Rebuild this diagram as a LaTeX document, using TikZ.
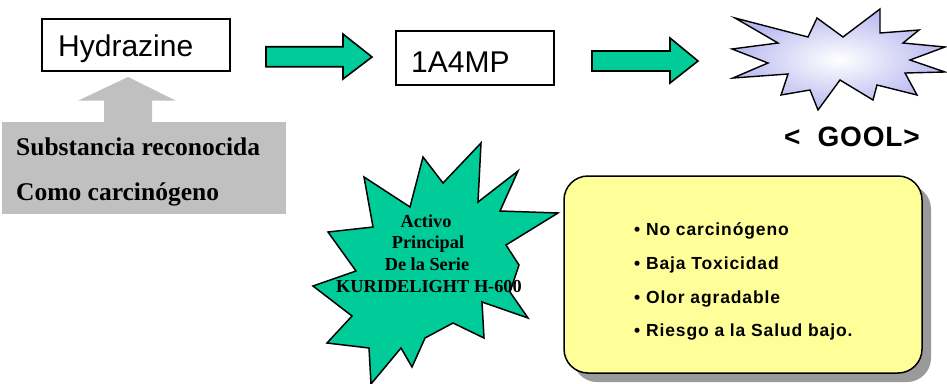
\documentclass[tikz,border=0pt]{standalone}
\usepackage{fontspec}
\setmainfont{Liberation Serif}
\newfontfamily\arialf{Liberation Sans}
\newfontfamily\arialsp[LetterSpace=5]{Liberation Sans}
\newfontfamily\arialgl[LetterSpace=3]{Liberation Sans}
\definecolor{grn}{HTML}{00CC99}
\definecolor{gry}{HTML}{C0C0C0}
\definecolor{ylw}{HTML}{FFFF99}
\definecolor{lav}{HTML}{B8B8F0}
\definecolor{shd}{HTML}{9A9A9A}
\begin{document}
\begin{tikzpicture}[x=1pt,y=-1pt,
  outl/.style={draw=black,line width=1.6pt,line join=miter},
  bigsans/.style={inner sep=0pt,anchor=base west,font=\arialf\fontsize{30}{36}\selectfont},
  sertxt/.style={inner sep=0pt,anchor=base west,font=\bfseries\fontsize{25.5}{30}\selectfont},
  startxt/.style={inner sep=0pt,anchor=base,font=\bfseries\fontsize{18.3}{22}\selectfont},
  bullettxt/.style={inner sep=0pt,anchor=base west,font=\arialsp\bfseries\fontsize{17.5}{21}\selectfont}]
\useasboundingbox (0,0) rectangle (947,383);
\fill[white] (0,0) rectangle (947,383);

% Hydrazine box
\node[draw=black,line width=1.8pt,minimum width=188pt,minimum height=52pt,inner sep=0pt] (hyd) at (136,45.3) {};
\node[bigsans] (hydt) at (58,56.7) {Hydrazine};

% 1A4MP box
\node[draw=black,line width=1.8pt,minimum width=158pt,minimum height=54pt,inner sep=0pt] (mp) at (475,57.7) {};
\node[bigsans] (mpt) at (411,72.7) {1A4MP};

% grey box and arrow
\fill[gry] (2,122) rectangle (286,214);
\fill[gry] (104,123) -- (104,100.7) -- (78,100.7) -- (128,77) -- (176,100.7) -- (152,100.7) -- (152,123) -- cycle;
\node[sertxt] (sub1) at (16,155) {Substancia reconocida};
\node[sertxt] (sub2) at (16,200) {Como carcin\'ogeno};

% green arrows
\draw[outl,fill=grn] (266,46.7) -- (343,46.7) -- (343,34) -- (372,57) -- (343,79) -- (343,66.7) -- (266,66.7) -- cycle;
\draw[outl,fill=grn] (592,51) -- (670,51) -- (670,38) -- (698,61) -- (670,83) -- (670,71) -- (592,71) -- cycle;

% burst
\draw[outl,line width=1.4pt,inner color=white,outer color=lav]
  (735,18) -- (778,43) -- (732,49) -- (768,63) -- (733,78) -- (788,74) -- (781,95) -- (810,90)
  -- (818,110) -- (840,80) -- (873,100) -- (877,85) -- (917,95) -- (905,73) -- (945,72)
  -- (910,60) -- (945,47) -- (903,43) -- (919,30) -- (880,33) -- (880,9) -- (843,37)
  -- (817,18) -- (808,37) -- cycle;
\node[inner sep=0pt,anchor=base west,font=\arialgl\bfseries\fontsize{28}{32}\selectfont] (gool) at (784,146) {<\hspace{17pt}GOOL>};

% green star
\draw[outl,fill=grn,line width=1.5pt]
  (481,143) -- (478,202) -- (518,171) -- (500,211) -- (558,213) -- (506,245) -- (519,265)
  -- (510,292) -- (528,318) -- (482,302) -- (484,338) -- (453,323) -- (425,338) -- (412,367)
  -- (401,348) -- (371,384) -- (369,348) -- (327,343) -- (352,316) -- (313,286) -- (356,271)
  -- (328,232) -- (373,227) -- (364,177) -- (410,207) -- (423,157) -- (443,183) -- cycle;
\node[startxt] (s1) at (426,227) {Activo};
\node[startxt] (s2) at (428,248) {Principal};
\node[startxt] (s3) at (427,270) {De la Serie};
\node[startxt] (s4) at (429,292) {KURIDELIGHT H-600};

% yellow box with shadow
\fill[shd,rounded corners=24pt] (573,185) rectangle (931,382);
\draw[fill=ylw,draw=black,line width=1.5pt,rounded corners=24pt] (564,176) rectangle (922,373);
\node[bullettxt] (b1) at (634,235) {\textbullet\ No carcin\'ogeno};
\node[bullettxt] (b2) at (634,269) {\textbullet\ Baja Toxicidad};
\node[bullettxt] (b3) at (634,303) {\textbullet\ Olor agradable};
\node[bullettxt] (b4) at (634,336) {\textbullet\ Riesgo a la Salud bajo.};
\end{tikzpicture}
\end{document}
